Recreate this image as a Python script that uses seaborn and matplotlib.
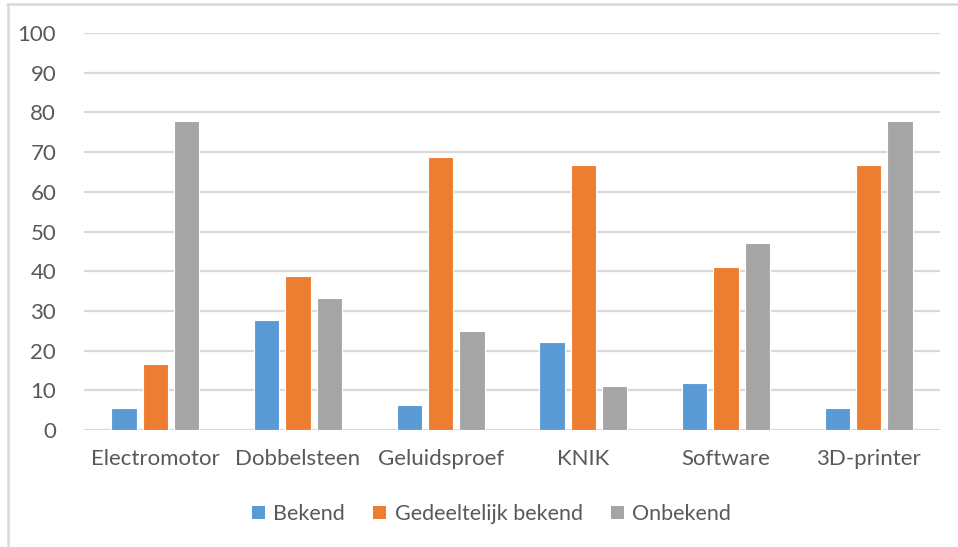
import matplotlib
matplotlib.use("Agg")
import matplotlib.pyplot as plt
from matplotlib.lines import Line2D
from matplotlib.patches import Patch
import seaborn as sns
import pandas as pd

categories = ["Electromotor", "Dobbelsteen", "Geluidsproef", "KNIK", "Software", "3D-printer"]
series_names = ["Bekend", "Gedeeltelijk bekend", "Onbekend"]
bekend = [5.56, 27.78, 6.25, 22.22, 11.76, 5.56]
gedeeltelijk = [16.67, 38.89, 68.75, 66.67, 41.18, 66.67]
onbekend = [77.78, 33.33, 25.0, 11.11, 47.06, 77.78]
y_ticks = [0, 10, 20, 30, 40, 50, 60, 70, 80, 90, 100]

colors = ["#5B9BD5", "#ED7D31", "#A5A5A5"]
text_color = "#595959"
grid_color = "#D9D9D9"

df = pd.DataFrame({
    "categorie": categories * 3,
    "reeks": [series_names[0]] * 6 + [series_names[1]] * 6 + [series_names[2]] * 6,
    "waarde": bekend + gedeeltelijk + onbekend,
})

sns.set_theme(style="white")
plt.rcParams["font.family"] = ["Lato", "DejaVu Sans"]

W, H = 958, 547
fig = plt.figure(figsize=(W / 100, H / 100), dpi=100)
ax = fig.add_axes([84 / W, 1 - 430 / H, (940 - 84) / W, (430 - 33) / H])

sns.barplot(data=df, x="categorie", y="waarde", hue="reeks", order=categories,
            hue_order=series_names, palette=colors, width=0.66, gap=0.2,
            saturation=1, edgecolor="white", linewidth=0.8, ax=ax, legend=False)

ax.set_ylim(0, 100)
ax.set_yticks(y_ticks)
ax.set_yticklabels([str(t) for t in y_ticks])
ax.set_xlim(-0.5, len(categories) - 0.5)
ax.set_axisbelow(True)
ax.yaxis.grid(True, color=grid_color, linewidth=1.6)
ax.xaxis.grid(False)
for s in ax.spines.values():
    s.set_visible(False)
ax.set_xlabel("")
ax.set_ylabel("")
ax.tick_params(axis="y", length=0, pad=20, labelsize=16, labelcolor=text_color)
ax.tick_params(axis="x", length=0, pad=14, labelsize=16, labelcolor=text_color)

handles = [Patch(facecolor=c, edgecolor="none") for c in colors]
fig.legend(handles, series_names, loc="center", bbox_to_anchor=(0.513, 1 - 514 / H),
           ncol=3, frameon=False, fontsize=15.5, labelcolor=text_color,
           handlelength=0.6, handleheight=0.6, handletextpad=0.4, columnspacing=1.3)

# chart frame
fig.add_artist(Line2D([7 / W, 1], [1 - 3.5 / H, 1 - 3.5 / H], color=grid_color, linewidth=1.8))
fig.add_artist(Line2D([7.5 / W, 7.5 / W], [0, 1 - 3.5 / H], color=grid_color, linewidth=1.8))

fig.savefig("out.png", dpi=100, facecolor="white")
